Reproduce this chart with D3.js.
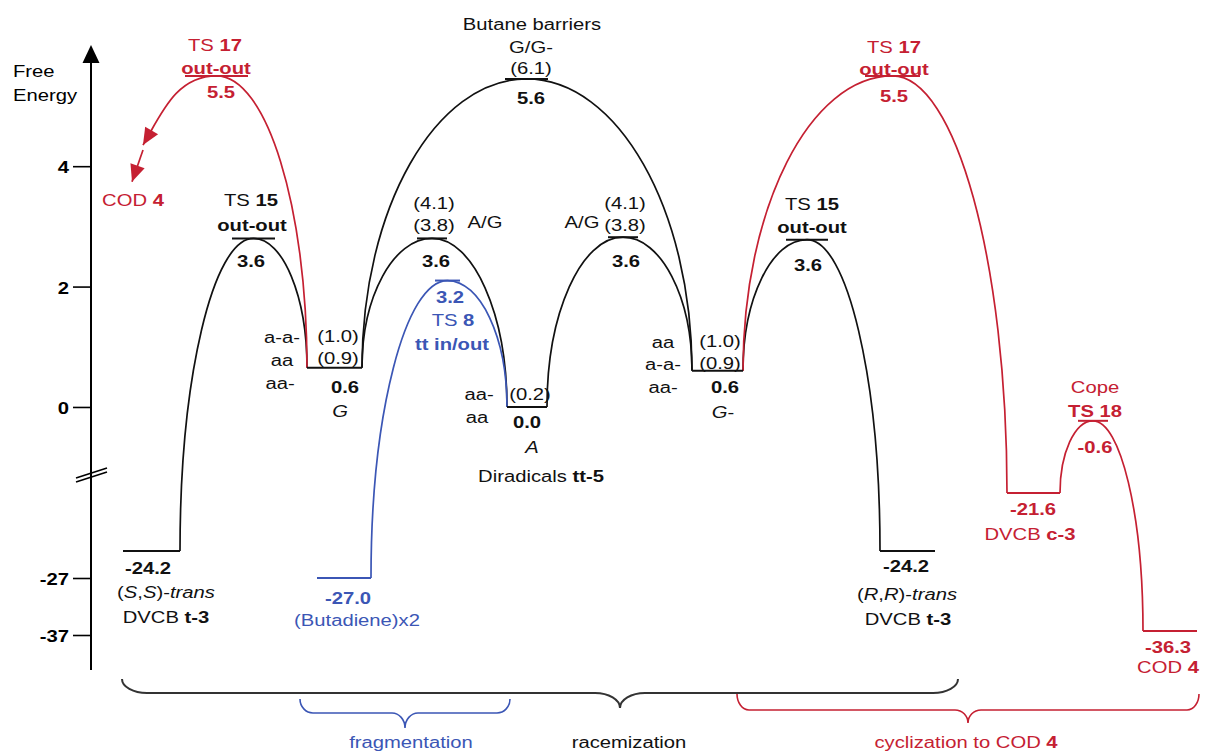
<!DOCTYPE html>
<html><head><meta charset="utf-8">
<script src="https://cdn.jsdelivr.net/npm/d3@7/dist/d3.min.js"></script>
<style>
html,body{margin:0;padding:0;background:#fff;}
svg{display:block;font-family:"Liberation Sans",Arial,Helvetica,sans-serif;}
text{white-space:pre;}
</style></head><body>
<svg id="chart" width="1210" height="753"></svg>
<script>
// ================= DATA =================
// levels: reaction-coordinate extent (x units) and drawn height (axis units)
const levelIds     = ["SS","TS17L","TS15L","G","BD","TSAGL","TS8","A","BUT","TSAGR","GM","TS15R","TS17R","RR","C3","TS18","COD4"];
const levelStart   = [3.3, 9.5, 14.2, 21.7, 22.7, 32.7, 34.5, 41.7, 41.5, 51.8, 60.2, 69.6, 77.5, 79.0, 91.7, 98.8, 105.3];
const levelEnd     = [9.0, 15.8, 18.5, 27.2, 28.1, 35.7, 37.0, 45.7, 45.8, 54.8, 65.3, 73.8, 83.0, 84.5, 97.0, 101.8, 110.7];
const levelHeight  = [-24.2, 5.5, 2.8, 0.65, -27.0, 2.8, 2.1, 0.0, 5.45, 2.82, 0.6, 2.78, 5.5, -24.2, -21.6, -0.23, -36.3];
const levelEnergy  = [-24.2, 5.5, 3.6, 0.6, -27.0, 3.6, 3.2, 0.0, 5.6, 3.6, 0.6, 3.6, 5.5, -24.2, -21.6, -0.6, -36.3];
const levelSeries  = ["k","r","k","k","b","k","b","k","k","k","k","k","r","k","r","r","r"];

// pathways: [from level, side, transition state, to level, side, series]
const pathways = [
  ["SS","end","TS15L","G","start","k"],
  ["G","end","TSAGL","A","start","k"],
  ["A","end","TSAGR","GM","start","k"],
  ["G","end","BUT","GM","start","k"],
  ["GM","end","TS15R","RR","start","k"],
  ["BD","end","TS8","A","start","b"],
  ["GM","end","TS17R","C3","start","r"],
  ["C3","end","TS18","COD4","start","r"]
];
// TS 17 (left) toward COD 4: arrow end points (x units, axis units)
const codArrow1End   = [5.3, 4.35];
const codArrow2Start = [5.3, 4.27];
const codArrow2End   = [4.2, 3.74];

// axis ticks
const tickValues = [4, 2, 0, -27, -37];
const tickLabels = ["4", "2", "0", "-27", "-37"];

// braces
const braceLabels = ["racemization", "fragmentation", "cyclization to COD **4**"];
const braceStart  = [3.2, 21.0, 64.7];
const braceEnd    = [86.8, 42.0, 110.9];
const braceTip    = [53.0, 31.5, 87.8];
const braceSeries = ["k", "b", "r"];

// text annotations: [level, dx, dy, text]   (**bold**, *italic*)
const annotations = [
  ["SS", 14.5, 47, "(*S*,*S*)-*trans*"], ["SS", 14.5, 72, "DVCB **t-3**"],
  ["TS17L", -1.5, -25, "TS **17**"], ["TS17L", -0.5, -2, "**out-out**"],
  ["TS15L", -2.5, -32, "TS **15**"], ["TS15L", -1.5, -7, "**out-out**"],
  ["G", 3.5, -26, "(1.0)"], ["G", 3.5, -4, "(0.9)"], ["G", 5.5, 49, "*G*"],
  ["G", -52.5, -25, "a-a-"], ["G", -52.5, -2, "aa"], ["G", -54.5, 21, "aa-"],
  ["BD", 13, 48, "(Butadiene)x2"],
  ["TSAGL", 2, -29, "(4.1)"], ["TSAGL", 2, -7, "(3.8)"], ["TSAGL", 53, -10, "A/G"],
  ["TS8", 5.5, 45, "TS **8**"], ["TS8", 4.5, 69, "**tt in/out**"],
  ["A", 3, -7, "(0.2)"], ["A", 5, 46, "*A*"], ["A", 14, 75, "Diradicals **tt-5**"],
  ["A", -48, -7, "aa-"], ["A", -50, 16, "aa"],
  ["BUT", 5.5, -49, "Butane barriers"], ["BUT", 4.5, -26, "G/G-"], ["BUT", 4.5, -5, "(6.1)"],
  ["TSAGR", 2, -28, "(4.1)"], ["TSAGR", 2, -6, "(3.8)"], ["TSAGR", -41, -9, "A/G"],
  ["GM", 2.5, -24, "(1.0)"], ["GM", 2.5, -2, "(0.9)"], ["GM", 5.5, 47, "*G*-"],
  ["GM", -54.5, -23, "aa"], ["GM", -54.5, -1, "a-a-"], ["GM", -54.5, 22, "aa-"],
  ["TS15R", 5, -30, "TS **15**"], ["TS15R", 5, -7, "**out-out**"],
  ["TS17R", 1.5, -23, "TS **17**"], ["TS17R", 1.5, -1, "**out-out**"],
  ["RR", -0.5, 49, "(*R*,*R*)-*trans*"], ["RR", 0.5, 74, "DVCB **t-3**"],
  ["C3", -3.5, 47, "DVCB **c-3**"],
  ["TS18", 2, -28, "Cope"], ["TS18", 2, -4, "**TS 18**"],
  ["COD4", -2, 42, "COD **4**"]
];
// energy label offsets [dx, dy] per level (same order as levelIds)
const energyOffset = [[-3.5,23],[4.5,22],[-2.5,29],[10.5,25],[4,26],[4,29],[2.5,22],[0,21],[4.5,25],[3,30],[7.5,22],[1,31],[1.5,26],[-1.5,21],[-0.5,22],[2,32],[-2,22]];

// ================= STYLE / LAYOUT =================
const COLORS = {k: "#111", b: "#3b56b5", r: "#c52032"};
const SX = 1.17, FS = 17.3;
const svg = d3.select("#chart");
const x = d3.scaleLinear().domain([0, 111]).range([90, 1200]);
const y = d3.scaleLinear().domain([-37, -27, -24.2, -21.6, -1.2, 6]).range([635, 578, 551, 493, 479.2, 45.8]);
const AX = 91;

function addText(g, px, py, str, color, anchor) {
  const t = g.append("text")
    .attr("transform", `translate(${px},${py}) scale(${SX},1)`)
    .attr("text-anchor", anchor || "middle")
    .attr("fill", color).attr("font-size", FS);
  str.split(/(\*\*[^*]+\*\*|\*[^*]+\*)/).filter(s => s).forEach(s => {
    const ts = t.append("tspan");
    if (s.startsWith("**")) ts.attr("font-weight", "bold").text(s.slice(2, -2));
    else if (s.startsWith("*")) ts.attr("font-style", "italic").text(s.slice(1, -1));
    else ts.text(s);
  });
  return t;
}

const idx = id => levelIds.indexOf(id);
const lvl = id => {
  const i = idx(id);
  return {x0: x(levelStart[i]), x1: x(levelEnd[i]), cx: x((levelStart[i] + levelEnd[i]) / 2), y: y(levelHeight[i]), s: levelSeries[i]};
};

// ---- defs: arrow marker
const defs = svg.append("defs");
defs.append("marker").attr("id", "arrR")
  .attr("viewBox", "-18 -9 19 18").attr("refX", 0).attr("refY", 0)
  .attr("markerWidth", 19).attr("markerHeight", 18)
  .attr("markerUnits", "userSpaceOnUse").attr("orient", "auto")
  .append("path").attr("d", "M0,0 L-17,-7.5 L-17,7.5 Z").attr("fill", COLORS.r);

// ---- axis
const axisG = svg.append("g").attr("transform", `translate(${AX},0)`);
axisG.call(d3.axisLeft(y).tickValues(tickValues).tickSize(18).tickPadding(4)
  .tickFormat((d, i) => tickLabels[i]));
axisG.select(".domain").remove();
axisG.selectAll(".tick line").attr("stroke", "#000").attr("stroke-width", 1.6);
axisG.selectAll(".tick text")
  .attr("x", 0).attr("dy", "0.38em")
  .attr("transform", `translate(-22,0) scale(${SX},1)`)
  .attr("font-size", FS).attr("font-weight", "bold")
  .attr("font-family", "Liberation Sans, Arial, sans-serif").attr("fill", "#000");
svg.append("line").attr("x1", AX).attr("x2", AX).attr("y1", 670).attr("y2", 58)
  .attr("stroke", "#000").attr("stroke-width", 2);
svg.append("path").attr("d", `M${AX},45 L${AX - 8.5},63 L${AX + 8.5},63 Z`).attr("fill", "#000");
// break marks
[0, 4].forEach(o => svg.append("line")
  .attr("x1", 76).attr("y1", 482 - o).attr("x2", 107).attr("y2", 472 - o)
  .attr("stroke", "#000").attr("stroke-width", 1.6));
addText(svg, 13, 77, "Free", "#000", "start");
addText(svg, 13, 101, "Energy", "#000", "start");

// ---- pathways (curves)
const K = 0.5523;
function riseTo(p, a, b) { p.bezierCurveTo(a[0], a[1] + K * (b[1] - a[1]), b[0] + K * (a[0] - b[0]), b[1], b[0], b[1]); }
function fallTo(p, a, b) { p.bezierCurveTo(a[0] + K * (b[0] - a[0]), a[1], b[0], b[1] + K * (a[1] - b[1]), b[0], b[1]); }
const curveG = svg.append("g").attr("fill", "none").attr("stroke-width", 1.7);
["k", "b", "r"].forEach(s => {
  pathways.filter(d => d[5] === s).forEach(d => {
    const a = lvl(d[0]), t = lvl(d[2]), b = lvl(d[3]);
    const p0 = [d[1] === "end" ? a.x1 : a.x0, a.y];
    const pk = [t.cx, t.y];
    const p2 = [d[4] === "end" ? b.x1 : b.x0, b.y];
    const p = d3.path();
    p.moveTo(p0[0], p0[1]); riseTo(p, p0, pk); fallTo(p, pk, p2);
    curveG.append("path").attr("d", p.toString()).attr("stroke", COLORS[s]);
  });
});
// TS 17 (left) with arrows to COD 4
{
  const g = lvl("G"), t = lvl("TS17L");
  const p0 = [g.x0, g.y], pk = [t.cx, t.y], e = [x(codArrow1End[0]), y(codArrow1End[1])];
  const p = d3.path();
  p.moveTo(p0[0], p0[1]); riseTo(p, p0, pk);
  p.bezierCurveTo(pk[0] + K * (e[0] - pk[0]), pk[1], e[0] + 0.25 * (pk[0] - e[0]), e[1] - 0.45 * (e[1] - pk[1]), e[0], e[1]);
  curveG.append("path").attr("d", p.toString()).attr("stroke", COLORS.r).attr("marker-end", "url(#arrR)");
  curveG.append("line")
    .attr("x1", x(codArrow2Start[0])).attr("y1", y(codArrow2Start[1]))
    .attr("x2", x(codArrow2End[0])).attr("y2", y(codArrow2End[1]))
    .attr("stroke", COLORS.r).attr("marker-end", "url(#arrR)");
  addText(svg, x(codArrow2End[0]) + 1, y(codArrow2End[1]) + 24, "COD **4**", COLORS.r);
}

// ---- level lines
svg.append("g").selectAll("line").data(levelIds).join("line")
  .attr("x1", (d, i) => x(levelStart[i])).attr("x2", (d, i) => x(levelEnd[i]))
  .attr("y1", (d, i) => y(levelHeight[i])).attr("y2", (d, i) => y(levelHeight[i]))
  .attr("stroke", (d, i) => COLORS[levelSeries[i]]).attr("stroke-width", 2);

// ---- energy labels
const labG = svg.append("g");
levelIds.forEach((id, i) => {
  const L = lvl(id);
  addText(labG, L.cx + energyOffset[i][0], L.y + energyOffset[i][1], "**" + levelEnergy[i].toFixed(1) + "**", COLORS[L.s]);
});
annotations.forEach(a => {
  const L = lvl(a[0]);
  addText(labG, L.cx + a[1], L.y + a[2], a[3], COLORS[L.s]);
});

// ---- braces
const braceLayout = [
  {top: 679, line: 693, tip: 708, r: 25, rc: 25, lx: 9},
  {top: 699, line: 713, tip: 728, r: 13, rc: 13, lx: 6},
  {top: 694, line: 710, tip: 723, r: 12, rc: 13, lx: -2}
];
braceLabels.forEach((lab, i) => {
  const L = braceLayout[i];
  const x0 = x(braceStart[i]), x1 = x(braceEnd[i]), xc = x(braceTip[i]);
  const p = d3.path();
  p.moveTo(x0, L.top);
  p.bezierCurveTo(x0, L.top + K * (L.line - L.top), x0 + L.r * (1 - K), L.line, x0 + L.r, L.line);
  p.lineTo(xc - L.rc, L.line);
  p.bezierCurveTo(xc - L.rc * (1 - K), L.line, xc, L.tip - K * (L.tip - L.line), xc, L.tip);
  p.bezierCurveTo(xc, L.tip - K * (L.tip - L.line), xc + L.rc * (1 - K), L.line, xc + L.rc, L.line);
  p.lineTo(x1 - L.r, L.line);
  p.bezierCurveTo(x1 - L.r * (1 - K), L.line, x1, L.top + K * (L.line - L.top), x1, L.top);
  svg.append("path").attr("d", p.toString()).attr("fill", "none")
    .attr("stroke", braceSeries[i] === "k" ? "#333" : COLORS[braceSeries[i]])
    .attr("stroke-width", braceSeries[i] === "k" ? 2 : 1.6);
  addText(svg, xc + L.lx, 748, lab, COLORS[braceSeries[i]]);
});
</script>
</body></html>
